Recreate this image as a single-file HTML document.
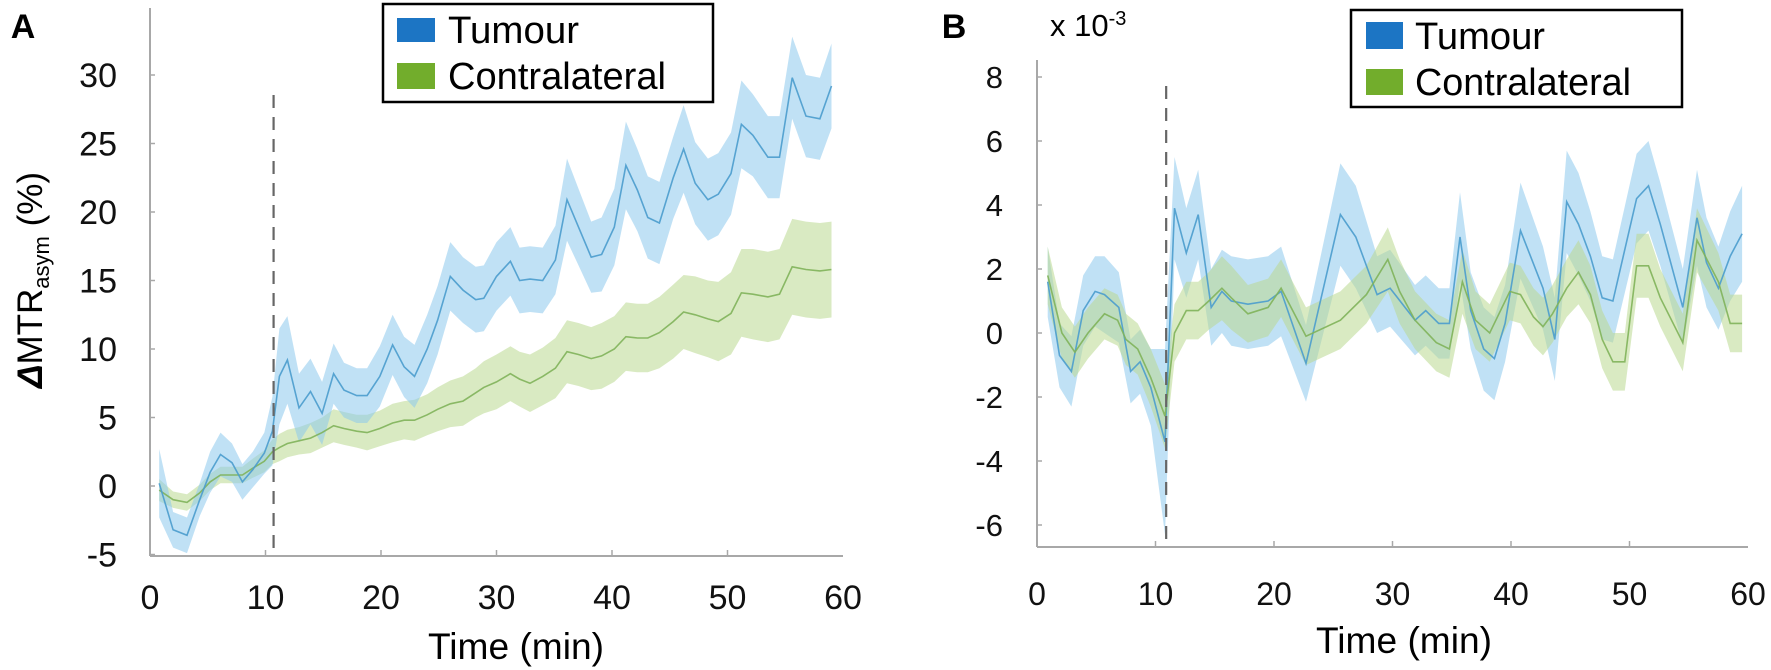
<!DOCTYPE html>
<html><head><meta charset="utf-8">
<style>
html,body{margin:0;padding:0;background:#fff;}
svg{display:block;font-family:"Liberation Sans",sans-serif;}
</style></head>
<body>
<svg id="fig" width="1771" height="670" viewBox="0 0 1771 670" xmlns="http://www.w3.org/2000/svg">
  <text x="23" y="38" font-size="34" font-weight="bold" text-anchor="middle">A</text>
  <text x="954" y="38" font-size="34" font-weight="bold" text-anchor="middle">B</text>
  <text x="1050" y="36" font-size="31">x 10<tspan font-size="20" dy="-11">-3</tspan></text>
  <text transform="translate(42,280) rotate(-90)" font-size="35" text-anchor="middle"><tspan font-style="italic" font-weight="bold">Δ</tspan>MTR<tspan font-size="22" dy="7">asym</tspan><tspan dy="-7"> (%)</tspan></text>
  <g id="panelA"></g>
  <g id="panelB"></g>
  <text x="516" y="659" font-size="37" text-anchor="middle" textLength="176" lengthAdjust="spacingAndGlyphs">Time (min)</text>
  <text x="1404" y="653" font-size="37" text-anchor="middle" textLength="176" lengthAdjust="spacingAndGlyphs">Time (min)</text>
  <g>
    <rect x="383" y="4" width="330" height="98" fill="#fff" stroke="#000" stroke-width="2.5"/>
    <rect x="397" y="18" width="38" height="24" fill="#1c75c4"/>
    <rect x="397" y="63" width="38" height="26" fill="#72ad2c"/>
    <text x="448" y="43" font-size="38" textLength="131" lengthAdjust="spacingAndGlyphs">Tumour</text>
    <text x="448" y="89" font-size="38" textLength="218" lengthAdjust="spacingAndGlyphs">Contralateral</text>
  </g>
  <g>
    <rect x="1351" y="10" width="331" height="97" fill="#fff" stroke="#000" stroke-width="2.5"/>
    <rect x="1366" y="22" width="37" height="27" fill="#1c75c4"/>
    <rect x="1366" y="69" width="37" height="26" fill="#72ad2c"/>
    <text x="1415" y="49" font-size="38" textLength="130" lengthAdjust="spacingAndGlyphs">Tumour</text>
    <text x="1415" y="95" font-size="38" textLength="216" lengthAdjust="spacingAndGlyphs">Contralateral</text>
  </g>
</svg>
<script>
// ---------- Panel A data ----------
const timesA = [0.8,2,3.2,4.3,5.2,6.1,7.1,8,8.9,9.9,10.6,11.2,11.9,12.9,13.9,14.9,15.9,16.8,17.9,18.8,19.9,21,22,22.9,24,24.9,26,27.1,28.2,28.9,30,31.2,32,32.9,34,35.1,36.1,37.1,38.2,39.1,40.2,41.2,42.2,43.1,44.1,45.3,46.2,47.2,48.3,49.2,50.3,51.2,52.2,53.5,54.5,55.6,56.8,58,59];
const tumourA = [0.2,-3.2,-3.6,-1.0,1.0,2.3,1.7,0.3,1.2,2.4,4.0,8.0,9.2,5.7,6.9,5.3,8.2,7.0,6.6,6.6,8.0,10.3,8.7,8.0,10.0,12.1,15.3,14.3,13.6,13.7,15.3,16.4,15.0,15.1,15.0,16.5,20.9,18.9,16.7,16.9,18.9,23.4,21.6,19.6,19.2,22.5,24.6,22.1,20.9,21.3,22.8,26.4,25.6,24.0,24.0,29.8,27.0,26.8,29.2];
const tumourErrA = [2.5,1.3,1.3,1.2,1.5,1.6,1.4,1.3,1.3,1.5,2.5,3.5,3.2,2.5,2.4,2.3,2.2,2.0,2.0,2.0,2.2,2.2,2.2,2.3,2.5,2.5,2.5,2.4,2.4,2.4,2.5,2.5,2.4,2.4,2.4,2.5,3.0,2.8,2.6,2.7,2.8,3.2,3.0,3.0,3.0,3.0,3.2,3.0,3.0,3.0,3.0,3.2,3.0,3.0,3.0,3.0,3.0,3.0,3.1];
const contraA = [-0.3,-1.0,-1.2,-0.5,0.3,0.8,0.8,0.8,1.3,1.8,2.5,2.8,3.1,3.3,3.5,3.9,4.4,4.2,4.0,3.9,4.2,4.6,4.8,4.8,5.2,5.6,6.0,6.2,6.8,7.2,7.6,8.2,7.8,7.5,8.0,8.6,9.8,9.6,9.3,9.5,10.0,10.9,10.8,10.8,11.2,12.0,12.7,12.5,12.2,12.0,12.6,14.1,14.0,13.8,14.0,16.0,15.8,15.7,15.8];
const contraErrA = [0.8,0.6,0.6,0.6,0.6,0.6,0.6,0.6,0.7,0.8,0.9,1.0,1.0,1.0,1.1,1.1,1.2,1.2,1.2,1.3,1.3,1.4,1.4,1.5,1.5,1.6,1.7,1.8,1.8,1.9,2.0,2.0,2.0,2.1,2.1,2.2,2.3,2.3,2.3,2.4,2.4,2.5,2.5,2.5,2.6,2.7,2.7,2.8,2.8,2.9,3.0,3.2,3.3,3.3,3.3,3.5,3.5,3.5,3.5];
const xTicksA = [0,10,20,30,40,50,60];
const yTicksA = [-5,0,5,10,15,20,25,30];
const injectionA = 10.7;

// ---------- Panel B data (x 10^-3) ----------
const timesTumourB = [0.9,1.9,2.9,3.9,4.9,5.7,6.9,7.9,8.7,9.6,10.8,11.6,12.6,13.6,14.7,15.6,16.4,17.8,19.5,20.6,22.7,25.6,26.9,28.7,29.8,31.9,32.8,33.9,34.8,35.7,36.6,37.7,38.6,39.5,40.8,42.7,43.7,44.7,45.7,46.7,47.7,48.6,50.6,51.6,52.6,54.5,55.7,56.5,57.5,58.5,59.5];
const tumourB = [1.6,-0.7,-1.2,0.7,1.3,1.2,0.8,-1.2,-0.9,-1.7,-3.4,3.9,2.5,3.7,0.8,1.3,1.0,0.9,1.0,1.3,-0.95,3.7,3.0,1.2,1.4,0.4,0.7,0.3,0.3,3.0,0.7,-0.5,-0.8,0.3,3.2,1.4,-0.2,4.1,3.4,2.4,1.1,1.0,4.2,4.6,3.4,0.8,3.6,2.2,1.4,2.4,3.1];
const tumourErrB = [1.1,1.0,1.1,1.1,1.1,1.2,1.1,1.0,1.0,1.2,2.9,1.6,1.4,1.4,1.2,1.3,1.4,1.4,1.4,1.4,1.2,1.6,1.6,1.2,1.2,1.1,1.1,1.1,1.1,1.4,1.2,1.3,1.3,1.2,1.5,1.3,1.3,1.6,1.6,1.4,1.3,1.3,1.4,1.4,1.3,1.2,1.5,1.4,1.3,1.4,1.5];
const timesContraB = [0.9,2.1,3.2,4.3,5.7,6.8,7.5,8.5,9.6,10.8,11.6,12.6,13.6,14.5,15.6,16.4,17.8,19.5,20.6,22.7,25.6,27.8,29.6,30.6,31.9,33.7,34.8,35.9,37.0,38.2,39.9,40.8,41.9,42.7,43.5,44.7,45.7,46.7,47.7,48.6,49.6,50.6,51.6,52.6,54.5,55.7,57.5,58.5,59.5];
const contraB = [1.8,0.0,-0.6,0.0,0.6,0.4,-0.2,-0.5,-1.4,-2.6,0.0,0.7,0.7,1.0,1.4,1.1,0.6,0.8,1.4,-0.1,0.4,1.2,2.3,1.3,0.4,-0.3,-0.5,1.6,0.4,0.0,1.3,1.2,0.5,0.2,0.6,1.4,1.9,1.2,-0.2,-0.9,-0.9,2.1,2.1,1.1,-0.3,2.9,1.6,0.3,0.3];
const contraErrB = [0.9,0.8,0.8,0.8,0.8,0.8,0.8,0.8,0.9,1.0,0.9,0.9,0.9,0.9,1.0,1.0,0.9,0.9,0.9,0.9,0.9,0.9,1.0,1.0,0.9,0.9,0.9,1.0,0.9,0.9,0.9,0.9,0.9,0.9,0.9,0.9,1.0,0.9,0.9,0.9,0.9,1.0,1.0,0.9,0.9,1.0,0.9,0.9,0.9];
const xTicksB = [0,10,20,30,40,50,60];
const yTicksB = [-6,-4,-2,0,2,4,6,8];
const injectionB = 10.9;

const NS = "http://www.w3.org/2000/svg";
function mk(tag, attrs, parent){
  const e = document.createElementNS(NS, tag);
  for (const k in attrs) e.setAttribute(k, attrs[k]);
  parent.appendChild(e);
  return e;
}

function drawPanel(g, cfg){
  const sx = t => cfg.x0 + (t - 0) * (cfg.x60 - cfg.x0) / 60;
  const sy = v => cfg.yZero - v * cfg.pxPerUnit;
  const yAxis = mk('line', {x1:cfg.x0, y1:cfg.top, x2:cfg.x0, y2:cfg.bottom, stroke:'#a8a8a8', 'stroke-width':2}, g);
  
  
  const xAxis = mk('line', {x1:cfg.x0, y1:cfg.bottom, x2:cfg.right, y2:cfg.bottom, stroke:'#a8a8a8', 'stroke-width':2}, g);
  
  
  cfg.yTicks.forEach(v => {
    const y = sy(v);
    const tk = mk('line', {x1:cfg.x0, y1:y, x2:cfg.x0+5, y2:y, stroke:'#a8a8a8', 'stroke-width':1.5}, g);
    
    
    const lb = mk('text', {x:cfg.yLabelRight, y:y + cfg.yFs*0.36, 'font-size':cfg.yFs, 'text-anchor':'end', fill:'#111'}, g);
    lb.textContent = String(v);
    
    
  });
  cfg.xTicks.forEach(t => {
    const x = sx(t);
    if (t > 0 && t < 60) {
      const tk = mk('line', {x1:x, y1:cfg.bottom, x2:x, y2:cfg.bottom-6, stroke:'#a8a8a8', 'stroke-width':1.5}, g);
      
      
    }
    const lb = mk('text', {x:x, y:cfg.xLabelY, 'font-size':cfg.xFs, 'text-anchor':'middle', fill:'#111'}, g);
    lb.textContent = String(t);
    
    
  });
  cfg.series.forEach(s => {
    const up = s.t.map((t,i) => sx(t).toFixed(1) + ',' + sy(s.v[i] + s.e[i]).toFixed(1));
    const lo = s.t.map((t,i) => sx(t).toFixed(1) + ',' + sy(s.v[i] - s.e[i]).toFixed(1)).reverse();
    const band = mk('polygon', {points: up.concat(lo).join(' '), fill:s.band, 'fill-opacity':s.op, stroke:'none'}, g);
    
    
  });
  cfg.series.forEach(s => {
    const pts = s.t.map((t,i) => sx(t).toFixed(1) + ',' + sy(s.v[i]).toFixed(1)).join(' ');
    const ln = mk('polyline', {points: pts, fill:'none', stroke:s.line, 'stroke-width':1.6, 'stroke-opacity':0.9}, g);
    
    
  });
  const dl = mk('line', {x1:sx(cfg.inj), y1:cfg.dashTop, x2:sx(cfg.inj), y2:cfg.bottom, stroke:'#666', 'stroke-width':2.2, 'stroke-dasharray':'13,9'}, g);
  
  
}

drawPanel(document.getElementById('panelA'), {
  p:'panel-a', x0:150, x60:843, right:843, top:8, bottom:556, yZero:486, pxPerUnit:13.7,
  yTicks:yTicksA, xTicks:xTicksA, yLabelRight:117, yFs:34, xLabelY:609, xFs:34,
  inj:injectionA, dashTop:95,
  series:[
    {name:'contralateral', t:timesA, v:contraA, e:contraErrA, band:'#b9d98f', op:0.55, line:'#7fb35a'},
    {name:'tumour', t:timesA, v:tumourA, e:tumourErrA, band:'#8cc8ec', op:0.55, line:'#4a9ccd'}
  ]
});
drawPanel(document.getElementById('panelB'), {
  p:'panel-b', x0:1037, x60:1748, right:1748, top:60, bottom:547, yZero:333, pxPerUnit:32,
  yTicks:yTicksB, xTicks:xTicksB, yLabelRight:1003, yFs:31, xLabelY:605, xFs:32,
  inj:injectionB, dashTop:86,
  series:[
    {name:'tumour', t:timesTumourB, v:tumourB, e:tumourErrB, band:'#8cc8ec', op:0.55, line:'#4a9ccd'},
    {name:'contralateral', t:timesContraB, v:contraB, e:contraErrB, band:'#b9d98f', op:0.55, line:'#7fb35a'}
  ]
});
</script>
</body></html>
